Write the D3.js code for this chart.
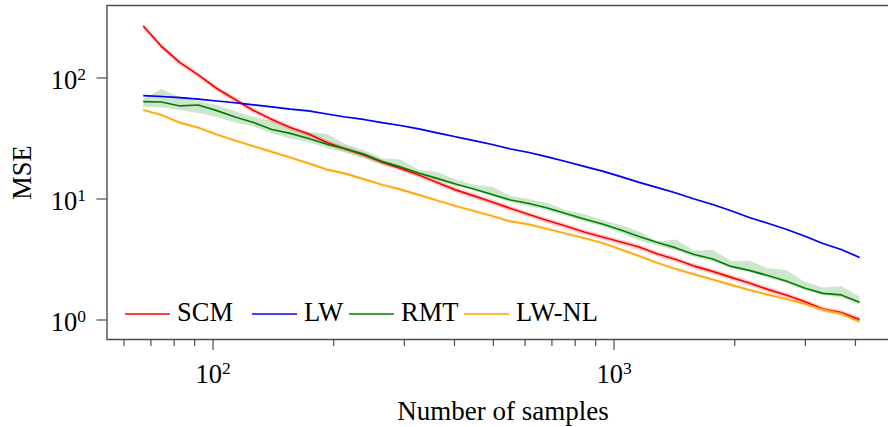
<!DOCTYPE html>
<html>
<head>
<meta charset="UTF-8">
<script src="https://d3js.org/d3.v7.min.js"></script>
<style>
  * { margin: 0; padding: 0; }
  body { background: #fff; }
  svg { display: block; font-family: 'Liberation Serif', 'DejaVu Serif', serif; }
</style>
</head>
<body>
<svg id="chart" width="888" height="427"></svg>
<script>
// number of samples (x) — log spaced
const samples = [67, 74.4, 82.7, 91.9, 102.2, 113.5, 126.2, 140.2, 155.8, 173.1,
  192.4, 213.8, 237.5, 263.9, 293.3, 325.9, 362.2, 402.5, 447.2, 497.0,
  552.2, 613.7, 681.9, 757.8, 842.1, 935.7, 1040, 1155, 1284, 1427,
  1585, 1762, 1958, 2175, 2417, 2686, 2985, 3317, 3686, 4096];

const scm = [269, 182, 134, 106, 81.9, 66.4, 53.9, 45.4, 39.0, 34.4,
  29.3, 25.9, 23.1, 20.1, 17.9, 15.8, 13.7, 11.9, 10.6, 9.45,
  8.35, 7.44, 6.64, 5.98, 5.34, 4.85, 4.41, 4.01, 3.51, 3.16,
  2.79, 2.52, 2.25, 2.02, 1.79, 1.61, 1.42, 1.23, 1.15, 1.01];

const lw = [71.4, 70.3, 68.8, 66.8, 64.5, 62.4, 60.0, 57.6, 55.2, 53.4,
  50.4, 47.6, 45.4, 42.7, 40.5, 37.9, 35.2, 32.7, 30.4, 28.2,
  25.9, 24.2, 22.3, 20.4, 18.6, 17.0, 15.3, 13.7, 12.4, 11.2,
  10.0, 9.01, 7.99, 7.03, 6.30, 5.62, 4.95, 4.29, 3.82, 3.29];

const rmt = [63.7, 63.3, 58.7, 59.8, 53.7, 47.6, 42.9, 37.5, 34.8, 31.6,
  28.3, 26.0, 23.5, 20.4, 18.4, 16.4, 14.8, 13.3, 12.1, 10.9,
  9.81, 9.18, 8.43, 7.59, 6.84, 6.21, 5.54, 4.90, 4.37, 3.94,
  3.48, 3.19, 2.77, 2.57, 2.33, 2.10, 1.84, 1.66, 1.61, 1.40];
const rmtHigh = [67.1, 81.1, 69.7, 64.5, 59.8, 53.4, 47.6, 44.1, 38.2, 35.8,
  34.4, 28.5, 25.4, 21.7, 21.2, 17.4, 16.7, 14.5, 13.1, 12.6,
  10.6, 10.0, 9.27, 8.11, 7.52, 6.71, 6.10, 5.39, 4.45, 4.63,
  3.75, 3.79, 3.07, 3.09, 2.68, 2.59, 2.07, 1.86, 1.91, 1.56];
const rmtLow = [57.9, 57.3, 54.4, 51.4, 47.6, 42.9, 39.7, 35.1, 31.6, 29.6,
  26.4, 24.2, 21.8, 19.3, 17.7, 15.8, 14.2, 12.8, 11.8, 10.5,
  9.45, 8.75, 8.03, 7.24, 6.52, 5.93, 5.24, 4.54, 4.13, 3.75,
  3.32, 3.07, 2.68, 2.49, 2.25, 2.02, 1.77, 1.61, 1.54, 1.33];

const lwnl = [54.4, 49.4, 42.7, 38.8, 34.1, 30.4, 27.3, 24.5, 22.0, 19.7,
  17.5, 16.2, 14.6, 13.1, 12.0, 10.8, 9.72, 8.75, 7.96, 7.24,
  6.52, 6.16, 5.65, 5.19, 4.76, 4.33, 3.82, 3.38, 2.96, 2.64,
  2.38, 2.16, 1.95, 1.77, 1.62, 1.49, 1.36, 1.22, 1.13, 0.968];

const seriesNames = ['SCM', 'LW', 'RMT', 'LW-NL'];
const xDecades = [100, 1000];
const yDecades = [1, 10, 100];

(function() {
  const L = 107, T = 5.5, R = 899, B = 339.5;
  const svg = d3.select('#chart');

  const x = d3.scaleLog().domain([54.4, 5136]).range([L, R]);
  const y = d3.scaleLog().domain([0.69, 397]).range([B, T]);

  const series = [
    { name: seriesNames[0], vals: scm, color: '#ff0000', spread: 0.05 },
    { name: seriesNames[1], vals: lw, color: '#0000ff', spread: 0.015 },
    { name: seriesNames[2], vals: rmt, color: '#008000', lo: rmtLow, hi: rmtHigh },
    { name: seriesNames[3], vals: lwnl, color: '#ffa500', spread: 0.035 },
  ];

  // shaded std bands
  const area = d3.area().x(d => x(d.n)).y0(d => y(d.lo)).y1(d => y(d.hi));
  series.forEach(s => {
    const pts = samples.map((n, i) => ({
      n,
      lo: s.lo ? s.lo[i] : s.vals[i] * (1 - s.spread),
      hi: s.hi ? s.hi[i] : s.vals[i] * (1 + s.spread),
    }));
    svg.append('path').datum(pts)
      .attr('d', area)
      .attr('fill', s.color).attr('fill-opacity', 0.2);
  });

  // mean lines
  const line = d3.line().x(d => x(d[0])).y(d => y(d[1]));
  series.forEach(s => {
    svg.append('path').datum(samples.map((n, i) => [n, s.vals[i]]))
      .attr('d', line)
      .attr('fill', 'none')
      .attr('stroke', s.color).attr('stroke-width', 1.7)
      .attr('stroke-linejoin', 'round');
  });

  // frame (left, top, bottom) — right side runs off the picture
  const axisColor = '#4d4d4d';
  svg.append('path')
    .attr('d', `M${R},${T}H${L}V${B}H${R}`)
    .attr('fill', 'none').attr('stroke', axisColor).attr('stroke-width', 1.4);

  // x ticks
  const xMinor = x.ticks().filter(v => !xDecades.includes(v) && x(v) < 888);
  svg.append('g').selectAll('line').data(xMinor).join('line')
    .attr('x1', d => x(d)).attr('x2', d => x(d))
    .attr('y1', B).attr('y2', B + 6.5)
    .attr('stroke', axisColor).attr('stroke-width', 1.2);
  svg.append('g').selectAll('line').data(xDecades).join('line')
    .attr('x1', d => x(d)).attr('x2', d => x(d))
    .attr('y1', B).attr('y2', B + 10.5)
    .attr('stroke', axisColor).attr('stroke-width', 1.2);

  const xLab = svg.append('g').selectAll('text').data(xDecades).join('text')
    .attr('x', d => x(d)).attr('y', 383)
    .attr('text-anchor', 'middle')
    .attr('font-size', 26.5).attr('fill', '#000');
  xLab.append('tspan').text('10');
  xLab.append('tspan').attr('font-size', 17.5).attr('dy', -9.5)
    .text(d => Math.round(Math.log10(d)));

  // y ticks
  svg.append('g').selectAll('line').data(yDecades).join('line')
    .attr('x1', L - 10.5).attr('x2', L)
    .attr('y1', d => y(d)).attr('y2', d => y(d))
    .attr('stroke', axisColor).attr('stroke-width', 1.2);

  const yLab = svg.append('g').selectAll('text').data(yDecades).join('text')
    .attr('x', 86).attr('y', d => y(d) + 11.5)
    .attr('text-anchor', 'end')
    .attr('font-size', 26.5).attr('fill', '#000');
  yLab.append('tspan').text('10');
  yLab.append('tspan').attr('font-size', 17.5).attr('dy', -9.5)
    .text(d => Math.round(Math.log10(d)));

  // axis titles
  svg.append('text')
    .attr('x', 503).attr('y', 420)
    .attr('text-anchor', 'middle').attr('font-size', 27)
    .text('Number of samples');
  svg.append('text')
    .attr('transform', `translate(31,${(T + B) / 2}) rotate(-90)`)
    .attr('text-anchor', 'middle').attr('font-size', 26.5)
    .text('MSE');

  // legend (single row, bottom left inside the frame); entry start positions as in the original
  const legendX = [125, 252, 349, 464];
  const ly = 314;
  series.forEach((s, i) => {
    const lx = legendX[i];
    svg.append('line')
      .attr('x1', lx).attr('x2', lx + 45)
      .attr('y1', ly).attr('y2', ly)
      .attr('stroke', s.color).attr('stroke-width', 1.7);
    svg.append('text')
      .attr('x', lx + 52).attr('y', ly + 7)
      .attr('font-size', 26.5)
      .text(s.name);
  });
})();
</script>
</body>
</html>
